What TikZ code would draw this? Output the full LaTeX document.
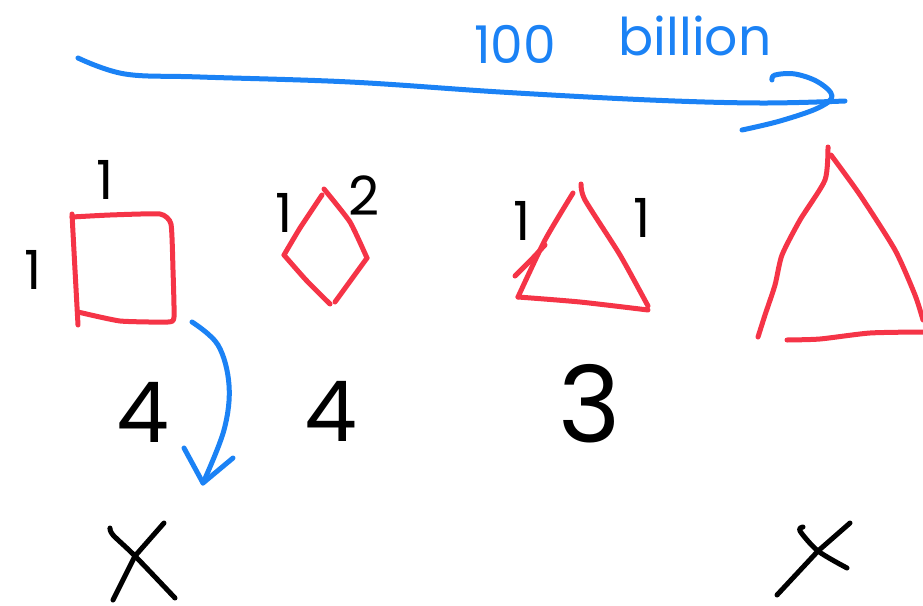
\documentclass[tikz,border=0pt]{standalone}
\usepackage{fontspec}
\setmainfont{Poppins}
\usepackage{xcolor}
\usetikzlibrary{positioning,calc}

\definecolor{penred}{HTML}{F53447}
\definecolor{penblue}{HTML}{1B82F5}

\begin{document}
\begin{tikzpicture}[x=1pt, y=-1pt,
  ink/.style={line width=5pt, line cap=round, line join=round},
  redpen/.style={ink, draw=penred},
  bluepen/.style={ink, draw=penblue},
  blackpen/.style={ink, draw=black},
  side/.style={font=\fontsize{54}{54}\selectfont, inner sep=0pt},
  count/.style={font=\fontsize{84}{84}\selectfont, inner sep=0pt},
  note/.style={text=penblue, font=\fontsize{52}{52}\selectfont, inner sep=0pt},
]
  \useasboundingbox (0,0) rectangle (923,605);

  % scale note
  \node[note] (hundred) at (515,44) {100};
  \node[note] (billion) at (695,36) {billion};

  % long arrow along the top
  \coordinate (longstart) at (78,58);
  \coordinate (longend) at (845,101);
  \draw[bluepen] plot[smooth, tension=0.6] coordinates
    {(longstart) (125,74) (200,77) (350,82) (500,92) (650,100) (760,103) (longend)};
  \draw[bluepen] plot[smooth, tension=0.6] coordinates
    {(772,80) (775,75) (795,74) (818,82) (832,96) (818,108) (780,121) (742,130)};

  % square
  \draw[redpen] plot[smooth, tension=0.3] coordinates
    {(72,217) (110,215) (160,214) (171,224) (173,270) (174,317) (168,322) (120,321) (78,312)};
  \draw[redpen] (72,214) -- (75,270) -- (78,325);
  \node[side] (sqtop) at (105,180) {1};
  \node[side] (sqleft) at (33,270) {1};

  % diamond
  \draw[redpen] plot[smooth, tension=0.3] coordinates {(322,195) (300,228) (284,255)};
  \draw[redpen] plot[smooth, tension=0.3] coordinates {(284,255) (306,280) (330,304)};
  \draw[redpen] plot[smooth, tension=0.3] coordinates {(324,189) (350,222) (367,258)};
  \draw[redpen] (367,258) -- (335,302);
  \node[side] (dmleft) at (284,213) {1};
  \node[side] (dmright) at (364,196) {2};

  % small triangle
  \draw[redpen] plot[smooth, tension=0.4] coordinates {(573,193) (545,240) (518,297)};
  \draw[redpen] plot[smooth, tension=0.4] coordinates {(518,297) (580,302) (648,310)};
  \draw[redpen] plot[smooth, tension=0.4] coordinates {(581,184) (585,200) (620,255) (648,306)};
  \draw[redpen] (515,276) -- (530,261) -- (545,245);
  \node[side] (trleft) at (522,221) {1};
  \node[side] (trright) at (642,218) {1};

  % large triangle
  \draw[redpen] plot[smooth, tension=0.4] coordinates
    {(828,147) (825,180) (800,220) (782,255) (775,285) (765,315) (758,337)};
  \draw[redpen] plot[smooth, tension=0.4] coordinates
    {(831,155) (860,195) (895,250) (915,295) (923,320)};
  \draw[redpen] plot[smooth, tension=0.4] coordinates
    {(787,340) (820,339) (870,333) (923,332)};

  % perimeters
  \node[count] (sqcount) at (143,412) {4};
  \node[count] (dmcount) at (331,411) {4};
  \node[count, font=\fontsize{106}{106}\selectfont] (trcount) at (590,404) {3};

  % curved arrow down from the square
  \coordinate (bendstart) at (192,322);
  \coordinate (bendtip) at (203,483);
  \draw[bluepen] plot[smooth, tension=0.6] coordinates
    {(bendstart) (218,345) (229,385) (224,430) (bendtip)};
  \draw[bluepen] (184,448) -- (bendtip) -- (233,458);

  % crosses
  \draw[blackpen] plot[smooth, tension=0.5] coordinates {(110,528) (113,535) (135,556) (175,598)};
  \draw[blackpen] (164,523) -- (135,556) -- (113,600);
  \draw[blackpen] plot[smooth, tension=0.5] coordinates {(803,527) (800,531) (818,551) (847,568)};
  \draw[blackpen] (850,523) -- (818,551) -- (777,595);
\end{tikzpicture}
\end{document}
